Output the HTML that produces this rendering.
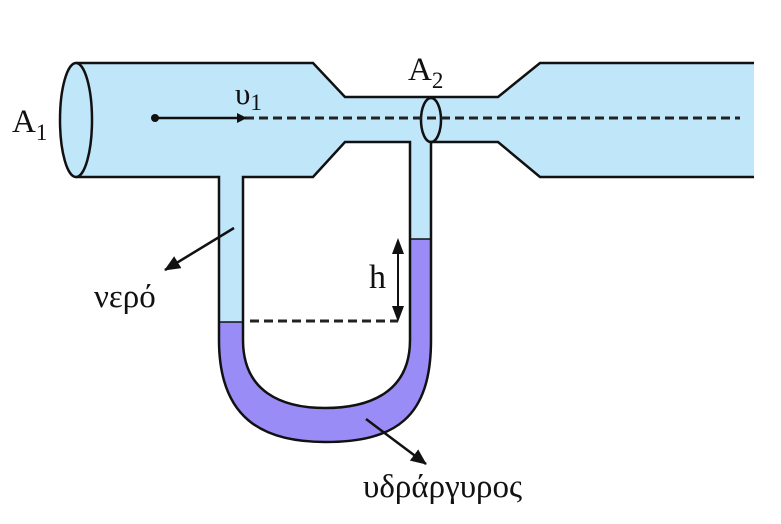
<!DOCTYPE html>
<html><head><meta charset="utf-8"><style>html,body{margin:0;padding:0;background:#fff}svg{display:block}.t{font-family:"Liberation Serif","DejaVu Serif",serif;fill:#111}</style></head>
<body>
<svg width="781" height="524" viewBox="0 0 781 524" xmlns="http://www.w3.org/2000/svg">
<defs>
<marker id="ah" markerWidth="10" markerHeight="10" refX="9" refY="5" orient="auto" markerUnits="userSpaceOnUse"><path d="M0,0 L10,5 L0,10 Z" fill="#111"/></marker>
<marker id="ah2" markerWidth="16" markerHeight="14" refX="15" refY="7" orient="auto" markerUnits="userSpaceOnUse"><path d="M0,0 L16,7 L0,14 Z" fill="#111"/></marker>
</defs>
<path d="M76,63 L313,63 L345,97 L498,97 L540,63 L754,63 L754,177 L540,177 L498,142 L345,142 L313,177 L76,177 Z" fill="#c0e6fa"/>
<rect x="219" y="176" width="24" height="147" fill="#c0e6fa"/>
<rect x="410" y="141" width="21" height="99" fill="#c0e6fa"/>
<path d="M219,322 L243,322 L243,340 C243,392 282,408 325,408 C370,408 410,392 410,340 L410,239 L431,239 L431,340 C431,418 395,442 325,442 C262,442 219,418 219,340 Z" fill="#9a8cf7"/>
<g fill="none" stroke="#111" stroke-width="2.5">
<path d="M76,63 L313,63 L345,97 L498,97 L540,63 L754,63"/>
<path d="M76,177 L219,177 L219,340 C219,418 262,442 325,442 C395,442 431,418 431,340 L431,142 L498,142 L540,177 L754,177"/>
<path d="M243,177 L313,177 L345,142 L410,142 L410,340 C410,392 370,408 325,408 C282,408 243,392 243,340 Z" />
<ellipse cx="76" cy="120" rx="16" ry="57" fill="#c0e6fa"/>
<ellipse cx="431" cy="120" rx="10" ry="22"/>
</g>
<line x1="219" y1="322" x2="243" y2="322" stroke="#111" stroke-width="1.5"/>
<line x1="410" y1="239" x2="431" y2="239" stroke="#111" stroke-width="1.5"/>
<line x1="245" y1="118" x2="740" y2="118" stroke="#222" stroke-width="3" stroke-dasharray="9,5"/>
<line x1="155" y1="118" x2="246" y2="118" stroke="#111" stroke-width="2.5" marker-end="url(#ah)"/>
<circle cx="155" cy="118" r="4" fill="#111"/>
<line x1="250" y1="321" x2="398" y2="321" stroke="#222" stroke-width="3" stroke-dasharray="9,5"/>
<line x1="398" y1="252" x2="398" y2="309" stroke="#111" stroke-width="2"/>
<path d="M398,238 L392,254 L404,254 Z M398,322 L392,306 L404,306 Z" fill="#111"/>
<line x1="234" y1="228" x2="165" y2="270" stroke="#111" stroke-width="2.5" marker-end="url(#ah2)"/>
<line x1="366" y1="419" x2="426" y2="464" stroke="#111" stroke-width="2.5" marker-end="url(#ah2)"/>
<text class="t" x="12" y="132" font-size="33">A<tspan font-size="23" dy="8">1</tspan></text>
<text class="t" x="408" y="80" font-size="33">A<tspan font-size="23" dy="8">2</tspan></text>
<text class="t" x="235" y="104" font-size="31">υ<tspan font-size="23" dy="6">1</tspan></text>
<text class="t" x="369" y="288" font-size="34">h</text>
<text class="t" x="94" y="307" font-size="33">νερό</text>
<text class="t" x="363" y="497" font-size="33">υδράργυρος</text>
</svg>
</body></html>
